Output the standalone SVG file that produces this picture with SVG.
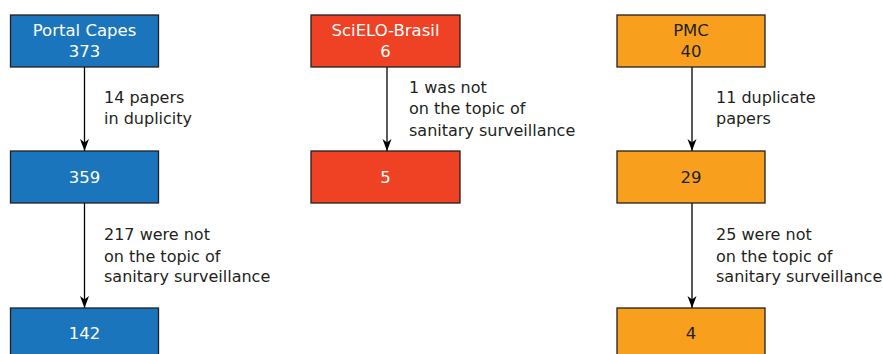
<svg xmlns="http://www.w3.org/2000/svg" width="883" height="354" viewBox="0 0 883 354">
<defs>
<marker id="ah" markerWidth="12" markerHeight="10" refX="12" refY="5" orient="auto" markerUnits="userSpaceOnUse" viewBox="0 0 12 10">
<path d="M0,0.5 L12,5 L0,9.5 L3.5,5 Z" fill="#000"/>
</marker>
<style>
.box{stroke:#231f20;stroke-width:1.3}
.blue{fill:#1b75bc}
.red{fill:#ef4123}
.orange{fill:#f89f1d}
.t{font-family:"DejaVu Sans",sans-serif;font-size:16.5px;text-anchor:middle}
.w{fill:#fff}
.k{fill:#231f20}
.lbl{font-family:"DejaVu Sans",sans-serif;font-size:16px;fill:#231f20}
.conn{stroke:#000;stroke-width:1.3;fill:none;marker-end:url(#ah)}
</style>
</defs>
<rect width="883" height="354" fill="#fff"/>
<g id="connectors">
<line class="conn" x1="84.5" y1="67" x2="84.5" y2="151"/>
<line class="conn" x1="84.5" y1="203" x2="84.5" y2="308"/>
<line class="conn" x1="387" y1="67" x2="387" y2="151"/>
<line class="conn" x1="692" y1="67" x2="692" y2="151"/>
<line class="conn" x1="692" y1="203" x2="692" y2="308"/>
</g>
<g id="portal-capes">
<rect class="box blue" x="10.5" y="15" width="148" height="52"/>
<text class="t w" x="84.5" y="36">Portal Capes</text>
<text class="t w" x="84.5" y="57">373</text>
</g>
<g id="n359">
<rect class="box blue" x="10.5" y="151" width="148" height="52"/>
<text class="t w" x="84.5" y="183">359</text>
</g>
<g id="n142">
<rect class="box blue" x="10.5" y="308" width="148" height="52"/>
<text class="t w" x="84.5" y="339">142</text>
</g>
<g id="scielo">
<rect class="box red" x="311" y="15" width="149" height="52"/>
<text class="t w" x="385.5" y="36">SciELO-Brasil</text>
<text class="t w" x="385.5" y="57">6</text>
</g>
<g id="n5">
<rect class="box red" x="311" y="151" width="149" height="52"/>
<text class="t w" x="385.5" y="183">5</text>
</g>
<g id="pmc">
<rect class="box orange" x="617" y="15" width="148" height="52"/>
<text class="t k" x="691" y="36">PMC</text>
<text class="t k" x="691" y="57">40</text>
</g>
<g id="n29">
<rect class="box orange" x="617" y="151" width="148" height="52"/>
<text class="t k" x="691" y="183">29</text>
</g>
<g id="n4">
<rect class="box orange" x="617" y="308" width="148" height="52"/>
<text class="t k" x="691" y="339">4</text>
</g>
<g id="labels">
<text class="lbl" x="104" y="103">14 papers</text>
<text class="lbl" x="104" y="124">in duplicity</text>
<text class="lbl" x="104" y="240">217 were not</text>
<text class="lbl" x="104" y="261.5">on the topic of</text>
<text class="lbl" x="104" y="282">sanitary surveillance</text>
<text class="lbl" x="409" y="92.5">1 was not</text>
<text class="lbl" x="409" y="114">on the topic of</text>
<text class="lbl" x="409" y="136">sanitary surveillance</text>
<text class="lbl" x="716" y="103">11 duplicate</text>
<text class="lbl" x="716" y="124">papers</text>
<text class="lbl" x="716" y="240">25 were not</text>
<text class="lbl" x="716" y="261.5">on the topic of</text>
<text class="lbl" x="716" y="282">sanitary surveillance</text>
</g>
</svg>
